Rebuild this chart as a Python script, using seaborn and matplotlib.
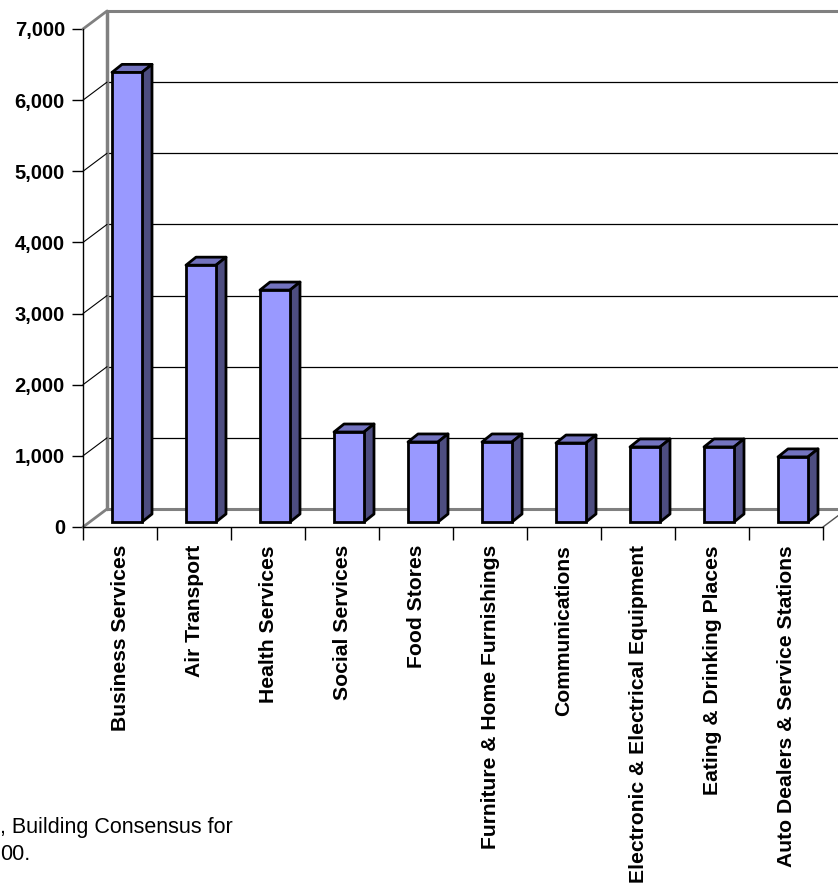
import numpy as np
import pandas as pd
import matplotlib
matplotlib.use("Agg")
import matplotlib.pyplot as plt
import seaborn as sns
from matplotlib.transforms import ScaledTranslation, IdentityTransform
from matplotlib.patches import Polygon
from matplotlib.lines import Line2D
from matplotlib.ticker import FuncFormatter

# ---- data ----
categories = ["Business Services", "Air Transport", "Health Services", "Social Services",
              "Food Stores", "Furniture & Home Furnishings", "Communications",
              "Electronic & Electrical Equipment", "Eating & Drinking Places",
              "Auto Dealers & Service Stations"]
values = [6320, 3610, 3260, 1265, 1125, 1125, 1110, 1055, 1055, 915]
y_ticks = [0, 1000, 2000, 3000, 4000, 5000, 6000, 7000]
note_text = ", Building Consensus for\n00."

sns.set_style("white")
plt.rcParams["font.family"] = ["Liberation Sans", "DejaVu Sans"]
plt.rcParams["text.color"] = "black"
plt.rcParams["xtick.color"] = "black"
plt.rcParams["ytick.color"] = "black"

DPI = 100
W, H = 838, 888
fig = plt.figure(figsize=(W / DPI, H / DPI), dpi=DPI)
ax = fig.add_axes([83 / W, (H - 527) / H, 740 / W, 498 / H])

df = pd.DataFrame({"Industry": categories, "Jobs": values})
sns.barplot(data=df, x="Industry", y="Jobs", color="#9999FF", saturation=1,
            width=0.405, edgecolor="black", linewidth=2.0, ax=ax, zorder=5)
bars = list(ax.patches)

ax.set_xlim(-0.5, 9.5)
ax.set_ylim(0, 7000)
ax.set_xlabel("")
ax.set_ylabel("")
for s in ["top", "right"]:
    ax.spines[s].set_visible(False)
for s in ["left", "bottom"]:
    ax.spines[s].set_color("black")
    ax.spines[s].set_linewidth(1.0)
ax.spines["left"].set_zorder(6)

ax.set_yticks(y_ticks)
ax.yaxis.set_major_formatter(FuncFormatter(lambda v, p: f"{int(v):,}"))
ax.tick_params(axis="y", length=8, width=1, pad=5, labelsize=14.5, color="black",
               labelcolor="black", left=True)
for t in ax.get_yticklabels():
    t.set_fontweight("bold")

ax.set_xticks(range(len(categories)))
ax.set_xticklabels(categories, rotation=90, va="top", ha="center")
for t in ax.get_xticklabels():
    t.set_fontweight("bold")
    t.set_fontsize(15.2)
    t.set_color("black")
ax.tick_params(axis="x", which="major", length=0, pad=13)
ax.set_xticks(np.arange(-0.5, len(categories), 1.0), minor=True)
ax.tick_params(axis="x", which="minor", length=9, width=1, color="black", bottom=True)

# ---- 3D walls ----
WDX, WDY = 24, 18  # wall depth offset in px
wall_tr = ax.transData + ScaledTranslation(WDX / DPI, WDY / DPI, fig.dpi_scale_trans)
gray = "#808080"
ax.hlines(y_ticks[1:-1], -0.5, 9.5, transform=wall_tr, color="black", lw=0.9,
          clip_on=False, zorder=1)
ax.plot([-0.5, -0.5], [0, 7000], transform=wall_tr, color=gray, lw=2.5, clip_on=False, zorder=1)
ax.plot([-0.5, 9.5], [7000, 7000], transform=wall_tr, color=gray, lw=2.2, clip_on=False, zorder=1)
ax.plot([-0.5, 9.5], [0, 0], transform=wall_tr, color=gray, lw=2.2, clip_on=False, zorder=1)

for v in y_ticks:
    px, py = ax.transData.transform((-0.5, v))
    col = gray if v in (0, 7000) else "black"
    lw = 2.0 if v in (0, 7000) else 0.8
    ax.add_line(Line2D([px, px + WDX], [py, py + WDY], transform=IdentityTransform(),
                       color=col, lw=lw, clip_on=False, zorder=1))
px, py = ax.transData.transform((9.5, 0))
ax.add_line(Line2D([px, px + WDX], [py, py + WDY], transform=IdentityTransform(),
                   color="#505050", lw=1.0, clip_on=False, zorder=1))

# ---- 3D bars ----
BOX, BOY = 7, 5     # bar placement offset
BDX, BDY = 10, 8    # bar depth
for p in bars:
    x0, y0 = ax.transData.transform((p.get_x(), 0))
    x1, y1 = ax.transData.transform((p.get_x() + p.get_width(), p.get_height()))
    p.set_transform(ax.transData + ScaledTranslation(BOX / DPI, BOY / DPI, fig.dpi_scale_trans))
    p.set_clip_on(False)
    top = [(x0 + BOX, y1 + BOY), (x1 + BOX, y1 + BOY),
           (x1 + BOX + BDX, y1 + BOY + BDY), (x0 + BOX + BDX, y1 + BOY + BDY)]
    side = [(x1 + BOX, y0 + BOY), (x1 + BOX + BDX, y0 + BOY + BDY),
            (x1 + BOX + BDX, y1 + BOY + BDY), (x1 + BOX, y1 + BOY)]
    for poly, fc in ((top, "#7373BF"), (side, "#4D4D80")):
        ax.add_patch(Polygon(poly, closed=True, transform=IdentityTransform(), facecolor=fc,
                             edgecolor="black", linewidth=2.0, joinstyle="round",
                             clip_on=False, zorder=4))

ax.set_xlim(-0.5, 9.5)
ax.set_ylim(0, 7000)

fig.text(0.0, (H - 817) / H, note_text, ha="left", va="top", fontsize=15.5,
         linespacing=1.35, color="black")

fig.savefig("out.png", dpi=DPI)
